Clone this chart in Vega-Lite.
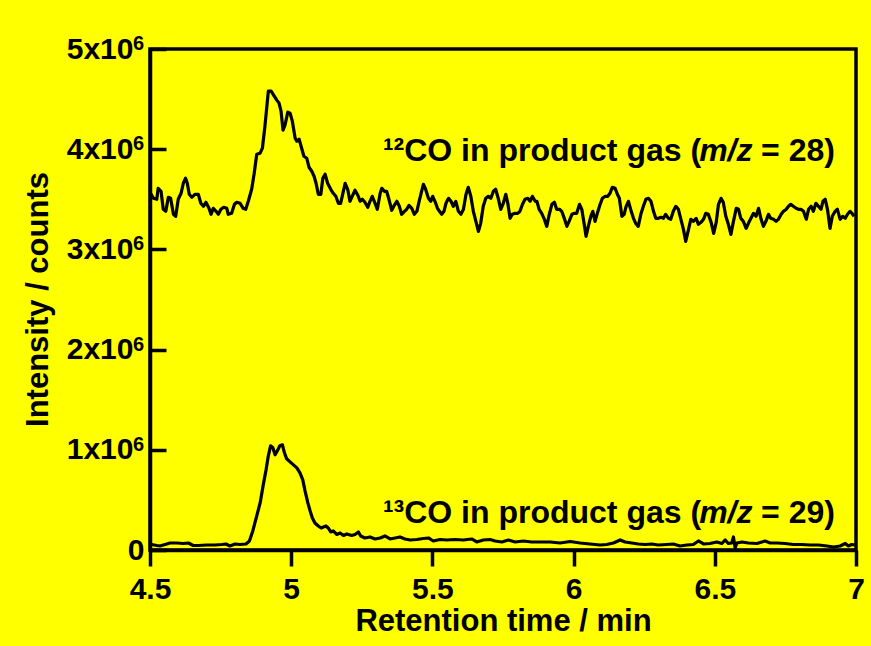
{
"$schema": "https://vega.github.io/schema/vega-lite/v6.json",
"width": 706, "height": 501,
"autosize": {"type": "none"},
"padding": {"left": 150, "top": 49, "right": 15, "bottom": 96},
"background": "#FFFF00",
"config": {
 "view": {"stroke": "black", "strokeWidth": 3.5},
 "font": "Liberation Sans",
 "axis": {"domainColor": "black", "domainWidth": 3.5, "tickColor": "black", "tickWidth": 3.5, "grid": false,
  "labelFont": "Liberation Sans", "labelFontWeight": "bold", "labelColor": "black", "labelFontSize": 30,
  "titleFont": "Liberation Sans", "titleFontWeight": "bold", "titleColor": "black", "titleFontSize": 31}
},
"datasets": {
 "c12": [
{"t":4.502,"v":3.53},{"t":4.504,"v":3.55},{"t":4.512,"v":3.51},{"t":4.524,"v":3.50},{"t":4.529,"v":3.61},{"t":4.539,"v":3.58},{"t":4.547,"v":3.40},{"t":4.556,"v":3.38},{"t":4.565,"v":3.52},{"t":4.573,"v":3.51},{"t":4.583,"v":3.35},{"t":4.591,"v":3.33},{"t":4.600,"v":3.50},{"t":4.610,"v":3.56},{"t":4.618,"v":3.66},{"t":4.626,"v":3.71},{"t":4.632,"v":3.66},{"t":4.639,"v":3.55},{"t":4.648,"v":3.52},{"t":4.659,"v":3.55},{"t":4.671,"v":3.55},{"t":4.680,"v":3.46},{"t":4.689,"v":3.43},{"t":4.698,"v":3.47},{"t":4.709,"v":3.41},{"t":4.716,"v":3.35},{"t":4.724,"v":3.41},{"t":4.734,"v":3.38},{"t":4.742,"v":3.35},{"t":4.751,"v":3.40},{"t":4.761,"v":3.42},{"t":4.772,"v":3.41},{"t":4.777,"v":3.35},{"t":4.789,"v":3.36},{"t":4.799,"v":3.45},{"t":4.807,"v":3.47},{"t":4.819,"v":3.46},{"t":4.830,"v":3.41},{"t":4.839,"v":3.40},{"t":4.848,"v":3.48},{"t":4.860,"v":3.60},{"t":4.869,"v":3.76},{"t":4.878,"v":3.95},{"t":4.890,"v":3.96},{"t":4.898,"v":4.01},{"t":4.907,"v":4.23},{"t":4.919,"v":4.58},{"t":4.929,"v":4.58},{"t":4.940,"v":4.53},{"t":4.949,"v":4.49},{"t":4.957,"v":4.46},{"t":4.964,"v":4.38},{"t":4.971,"v":4.19},{"t":4.978,"v":4.24},{"t":4.988,"v":4.37},{"t":4.996,"v":4.36},{"t":5.004,"v":4.28},{"t":5.014,"v":4.11},{"t":5.020,"v":4.08},{"t":5.028,"v":4.10},{"t":5.037,"v":4.01},{"t":5.045,"v":3.93},{"t":5.055,"v":3.91},{"t":5.063,"v":3.82},{"t":5.073,"v":3.78},{"t":5.081,"v":3.73},{"t":5.088,"v":3.66},{"t":5.096,"v":3.55},{"t":5.105,"v":3.55},{"t":5.112,"v":3.71},{"t":5.120,"v":3.75},{"t":5.129,"v":3.66},{"t":5.140,"v":3.60},{"t":5.149,"v":3.56},{"t":5.158,"v":3.53},{"t":5.167,"v":3.46},{"t":5.175,"v":3.46},{"t":5.183,"v":3.56},{"t":5.191,"v":3.66},{"t":5.200,"v":3.60},{"t":5.208,"v":3.48},{"t":5.216,"v":3.53},{"t":5.226,"v":3.59},{"t":5.236,"v":3.54},{"t":5.244,"v":3.48},{"t":5.252,"v":3.50},{"t":5.261,"v":3.47},{"t":5.271,"v":3.42},{"t":5.279,"v":3.48},{"t":5.287,"v":3.53},{"t":5.297,"v":3.46},{"t":5.305,"v":3.40},{"t":5.315,"v":3.56},{"t":5.321,"v":3.61},{"t":5.330,"v":3.58},{"t":5.338,"v":3.58},{"t":5.348,"v":3.48},{"t":5.356,"v":3.39},{"t":5.365,"v":3.44},{"t":5.374,"v":3.48},{"t":5.383,"v":3.43},{"t":5.391,"v":3.35},{"t":5.401,"v":3.38},{"t":5.409,"v":3.40},{"t":5.417,"v":3.44},{"t":5.427,"v":3.41},{"t":5.436,"v":3.35},{"t":5.445,"v":3.38},{"t":5.453,"v":3.48},{"t":5.460,"v":3.56},{"t":5.468,"v":3.65},{"t":5.476,"v":3.60},{"t":5.486,"v":3.51},{"t":5.494,"v":3.48},{"t":5.501,"v":3.53},{"t":5.509,"v":3.48},{"t":5.518,"v":3.41},{"t":5.525,"v":3.38},{"t":5.533,"v":3.35},{"t":5.541,"v":3.38},{"t":5.548,"v":3.46},{"t":5.557,"v":3.51},{"t":5.566,"v":3.48},{"t":5.574,"v":3.43},{"t":5.583,"v":3.48},{"t":5.592,"v":3.38},{"t":5.601,"v":3.35},{"t":5.610,"v":3.40},{"t":5.619,"v":3.55},{"t":5.627,"v":3.62},{"t":5.636,"v":3.53},{"t":5.645,"v":3.38},{"t":5.654,"v":3.28},{"t":5.663,"v":3.18},{"t":5.671,"v":3.26},{"t":5.680,"v":3.43},{"t":5.689,"v":3.51},{"t":5.698,"v":3.53},{"t":5.707,"v":3.51},{"t":5.716,"v":3.58},{"t":5.724,"v":3.60},{"t":5.734,"v":3.50},{"t":5.742,"v":3.40},{"t":5.751,"v":3.46},{"t":5.760,"v":3.55},{"t":5.767,"v":3.46},{"t":5.775,"v":3.31},{"t":5.783,"v":3.35},{"t":5.793,"v":3.36},{"t":5.802,"v":3.36},{"t":5.810,"v":3.38},{"t":5.819,"v":3.45},{"t":5.828,"v":3.50},{"t":5.838,"v":3.51},{"t":5.846,"v":3.48},{"t":5.854,"v":3.53},{"t":5.864,"v":3.48},{"t":5.870,"v":3.48},{"t":5.878,"v":3.40},{"t":5.887,"v":3.36},{"t":5.895,"v":3.31},{"t":5.905,"v":3.23},{"t":5.913,"v":3.34},{"t":5.923,"v":3.45},{"t":5.932,"v":3.47},{"t":5.940,"v":3.40},{"t":5.950,"v":3.40},{"t":5.958,"v":3.38},{"t":5.967,"v":3.31},{"t":5.976,"v":3.23},{"t":5.984,"v":3.28},{"t":5.994,"v":3.35},{"t":6.003,"v":3.36},{"t":6.011,"v":3.36},{"t":6.021,"v":3.45},{"t":6.029,"v":3.40},{"t":6.037,"v":3.26},{"t":6.044,"v":3.13},{"t":6.052,"v":3.23},{"t":6.061,"v":3.33},{"t":6.068,"v":3.38},{"t":6.076,"v":3.28},{"t":6.084,"v":3.36},{"t":6.094,"v":3.45},{"t":6.102,"v":3.51},{"t":6.112,"v":3.53},{"t":6.121,"v":3.53},{"t":6.129,"v":3.56},{"t":6.137,"v":3.62},{"t":6.147,"v":3.61},{"t":6.155,"v":3.55},{"t":6.162,"v":3.51},{"t":6.171,"v":3.33},{"t":6.179,"v":3.35},{"t":6.186,"v":3.43},{"t":6.194,"v":3.48},{"t":6.204,"v":3.38},{"t":6.212,"v":3.31},{"t":6.220,"v":3.26},{"t":6.229,"v":3.23},{"t":6.238,"v":3.35},{"t":6.247,"v":3.43},{"t":6.256,"v":3.50},{"t":6.265,"v":3.51},{"t":6.274,"v":3.48},{"t":6.283,"v":3.38},{"t":6.291,"v":3.31},{"t":6.300,"v":3.31},{"t":6.310,"v":3.32},{"t":6.318,"v":3.31},{"t":6.326,"v":3.35},{"t":6.336,"v":3.31},{"t":6.344,"v":3.30},{"t":6.353,"v":3.38},{"t":6.362,"v":3.43},{"t":6.371,"v":3.40},{"t":6.380,"v":3.30},{"t":6.389,"v":3.20},{"t":6.397,"v":3.08},{"t":6.407,"v":3.20},{"t":6.415,"v":3.30},{"t":6.424,"v":3.28},{"t":6.434,"v":3.31},{"t":6.442,"v":3.25},{"t":6.451,"v":3.27},{"t":6.460,"v":3.30},{"t":6.468,"v":3.36},{"t":6.477,"v":3.35},{"t":6.487,"v":3.27},{"t":6.496,"v":3.16},{"t":6.505,"v":3.27},{"t":6.513,"v":3.45},{"t":6.522,"v":3.51},{"t":6.530,"v":3.47},{"t":6.539,"v":3.33},{"t":6.548,"v":3.25},{"t":6.557,"v":3.15},{"t":6.566,"v":3.28},{"t":6.576,"v":3.41},{"t":6.584,"v":3.40},{"t":6.592,"v":3.31},{"t":6.601,"v":3.28},{"t":6.611,"v":3.21},{"t":6.619,"v":3.26},{"t":6.628,"v":3.31},{"t":6.637,"v":3.36},{"t":6.646,"v":3.33},{"t":6.655,"v":3.41},{"t":6.664,"v":3.30},{"t":6.672,"v":3.23},{"t":6.681,"v":3.28},{"t":6.690,"v":3.35},{"t":6.698,"v":3.31},{"t":6.708,"v":3.30},{"t":6.717,"v":3.28},{"t":6.725,"v":3.30},{"t":6.735,"v":3.35},{"t":6.743,"v":3.38},{"t":6.753,"v":3.40},{"t":6.761,"v":3.43},{"t":6.769,"v":3.45},{"t":6.778,"v":3.43},{"t":6.788,"v":3.41},{"t":6.796,"v":3.40},{"t":6.805,"v":3.40},{"t":6.814,"v":3.38},{"t":6.824,"v":3.30},{"t":6.832,"v":3.40},{"t":6.841,"v":3.43},{"t":6.849,"v":3.38},{"t":6.858,"v":3.46},{"t":6.867,"v":3.43},{"t":6.876,"v":3.40},{"t":6.883,"v":3.48},{"t":6.891,"v":3.50},{"t":6.899,"v":3.40},{"t":6.908,"v":3.21},{"t":6.916,"v":3.33},{"t":6.926,"v":3.38},{"t":6.934,"v":3.40},{"t":6.944,"v":3.30},{"t":6.953,"v":3.33},{"t":6.962,"v":3.31},{"t":6.970,"v":3.35},{"t":6.979,"v":3.38},{"t":6.986,"v":3.36},{"t":6.993,"v":3.33}
 ],
 "c13": [
{"t":4.502,"v":0.05},{"t":4.506,"v":0.055},{"t":4.524,"v":0.045},{"t":4.535,"v":0.04},{"t":4.553,"v":0.055},{"t":4.571,"v":0.07},{"t":4.595,"v":0.07},{"t":4.618,"v":0.065},{"t":4.636,"v":0.07},{"t":4.653,"v":0.045},{"t":4.671,"v":0.045},{"t":4.701,"v":0.05},{"t":4.730,"v":0.05},{"t":4.754,"v":0.055},{"t":4.769,"v":0.06},{"t":4.783,"v":0.04},{"t":4.801,"v":0.06},{"t":4.819,"v":0.055},{"t":4.840,"v":0.06},{"t":4.852,"v":0.09},{"t":4.864,"v":0.19},{"t":4.878,"v":0.34},{"t":4.890,"v":0.47},{"t":4.901,"v":0.65},{"t":4.911,"v":0.80},{"t":4.919,"v":0.94},{"t":4.927,"v":1.04},{"t":4.935,"v":1.02},{"t":4.943,"v":0.95},{"t":4.951,"v":0.99},{"t":4.960,"v":1.04},{"t":4.969,"v":1.05},{"t":4.976,"v":0.97},{"t":4.984,"v":0.91},{"t":4.996,"v":0.88},{"t":5.008,"v":0.85},{"t":5.020,"v":0.82},{"t":5.031,"v":0.77},{"t":5.041,"v":0.70},{"t":5.049,"v":0.59},{"t":5.059,"v":0.47},{"t":5.067,"v":0.39},{"t":5.075,"v":0.32},{"t":5.084,"v":0.27},{"t":5.096,"v":0.24},{"t":5.106,"v":0.22},{"t":5.114,"v":0.23},{"t":5.123,"v":0.24},{"t":5.131,"v":0.22},{"t":5.140,"v":0.18},{"t":5.149,"v":0.19},{"t":5.161,"v":0.155},{"t":5.173,"v":0.17},{"t":5.185,"v":0.145},{"t":5.197,"v":0.16},{"t":5.214,"v":0.145},{"t":5.226,"v":0.155},{"t":5.238,"v":0.18},{"t":5.246,"v":0.14},{"t":5.261,"v":0.12},{"t":5.279,"v":0.13},{"t":5.297,"v":0.11},{"t":5.315,"v":0.12},{"t":5.332,"v":0.14},{"t":5.350,"v":0.11},{"t":5.368,"v":0.12},{"t":5.385,"v":0.13},{"t":5.403,"v":0.11},{"t":5.421,"v":0.10},{"t":5.445,"v":0.105},{"t":5.468,"v":0.115},{"t":5.486,"v":0.12},{"t":5.503,"v":0.09},{"t":5.527,"v":0.105},{"t":5.551,"v":0.10},{"t":5.580,"v":0.105},{"t":5.610,"v":0.10},{"t":5.639,"v":0.11},{"t":5.657,"v":0.08},{"t":5.680,"v":0.10},{"t":5.704,"v":0.105},{"t":5.722,"v":0.09},{"t":5.746,"v":0.08},{"t":5.769,"v":0.10},{"t":5.793,"v":0.08},{"t":5.822,"v":0.09},{"t":5.852,"v":0.08},{"t":5.881,"v":0.08},{"t":5.917,"v":0.08},{"t":5.952,"v":0.07},{"t":5.988,"v":0.085},{"t":6.023,"v":0.07},{"t":6.058,"v":0.06},{"t":6.094,"v":0.05},{"t":6.117,"v":0.055},{"t":6.141,"v":0.07},{"t":6.165,"v":0.10},{"t":6.182,"v":0.08},{"t":6.206,"v":0.07},{"t":6.229,"v":0.06},{"t":6.253,"v":0.055},{"t":6.277,"v":0.06},{"t":6.300,"v":0.05},{"t":6.330,"v":0.055},{"t":6.353,"v":0.06},{"t":6.377,"v":0.04},{"t":6.401,"v":0.05},{"t":6.424,"v":0.055},{"t":6.442,"v":0.09},{"t":6.460,"v":0.06},{"t":6.483,"v":0.065},{"t":6.507,"v":0.08},{"t":6.525,"v":0.065},{"t":6.537,"v":0.10},{"t":6.548,"v":0.065},{"t":6.560,"v":0.07},{"t":6.566,"v":0.13},{"t":6.572,"v":0.02},{"t":6.578,"v":0.07},{"t":6.596,"v":0.08},{"t":6.619,"v":0.07},{"t":6.649,"v":0.065},{"t":6.678,"v":0.09},{"t":6.696,"v":0.07},{"t":6.720,"v":0.07},{"t":6.749,"v":0.065},{"t":6.778,"v":0.055},{"t":6.808,"v":0.055},{"t":6.837,"v":0.05},{"t":6.867,"v":0.05},{"t":6.897,"v":0.04},{"t":6.920,"v":0.03},{"t":6.944,"v":0.04},{"t":6.962,"v":0.065},{"t":6.973,"v":0.04},{"t":6.985,"v":0.055},{"t":6.995,"v":0.05}
 ],
 "labels": [
  {"t": 6.4515, "v": 3.886, "part": "a", "txt": "¹²CO in product gas ("},
  {"t": 6.4445, "v": 3.886, "part": "b", "txt": "m/z"},
  {"t": 6.6640, "v": 3.886, "part": "c", "txt": "= 28)"},
  {"t": 6.4515, "v": 0.27, "part": "a", "txt": "¹³CO in product gas ("},
  {"t": 6.4445, "v": 0.27, "part": "b", "txt": "m/z"},
  {"t": 6.6640, "v": 0.27, "part": "c", "txt": "= 29)"}
 ],
 "exponents": [
  {"t": 4.5, "v": 1, "sup": "6"},
  {"t": 4.5, "v": 2, "sup": "6"},
  {"t": 4.5, "v": 3, "sup": "6"},
  {"t": 4.5, "v": 4, "sup": "6"},
  {"t": 4.5, "v": 5, "sup": "6"}
 ],
 "xticks": [{"t": 4.5}, {"t": 5}, {"t": 5.5}, {"t": 6}, {"t": 6.5}, {"t": 7}],
 "yticks": [{"v": 1}, {"v": 2}, {"v": 3}, {"v": 4}]
},
"encoding": {
 "x": {"field": "t", "type": "quantitative",
  "scale": {"domain": [4.5, 7], "nice": false, "zero": false},
  "axis": {"values": [4.5, 5, 5.5, 6, 6.5, 7], "format": "~g", "tickSize": 16, "labelPadding": 32, "labelBaseline": "alphabetic", "labelFlush": false,
   "title": "Retention time / min", "titleY": 80, "titleBaseline": "alphabetic"}},
 "y": {"field": "v", "type": "quantitative",
  "scale": {"domain": [0, 5], "nice": false},
  "axis": {"values": [0, 1, 2, 3, 4, 5], "labelExpr": "datum.value == 0 ? '0' : datum.value + 'x10'", "tickSize": -16,
   "labelPadding": {"condition": {"test": "datum.value == 0", "value": 22}, "value": 33}, "labelBaseline": "middle",
   "title": "Intensity / counts", "titleX": -112, "titleY": 250, "titleAngle": -90, "titleBaseline": "middle", "titleAlign": "center"}}
},
"layer": [
 {"data": {"name": "xticks"}, "mark": {"type": "rule", "stroke": "black", "strokeWidth": 3.5},
  "encoding": {"y": {"datum": 0}, "y2": {"datum": -0.16}}},
 {"data": {"name": "yticks"}, "mark": {"type": "rule", "stroke": "black", "strokeWidth": 3.5},
  "encoding": {"x": {"datum": 4.5}, "x2": {"datum": 4.557}}},
 {"data": {"name": "c12"}, "mark": {"type": "line", "stroke": "black", "strokeWidth": 3.2, "strokeJoin": "round"}},
 {"data": {"name": "c13"}, "mark": {"type": "line", "stroke": "black", "strokeWidth": 3.2, "strokeJoin": "round"}},
 {"data": {"name": "exponents"},
  "mark": {"type": "text", "align": "right", "baseline": "alphabetic", "dx": -6, "dy": 1, "font": "Liberation Sans", "fontWeight": "bold", "fontSize": 20, "color": "black"},
  "encoding": {"text": {"field": "sup"}}},
 {"data": {"name": "labels"}, "transform": [{"filter": "datum.part == 'a'"}],
  "mark": {"type": "text", "align": "right", "baseline": "alphabetic", "font": "Liberation Sans", "fontWeight": "bold", "fontSize": 32, "color": "black"},
  "encoding": {"text": {"field": "txt"}}},
 {"data": {"name": "labels"}, "transform": [{"filter": "datum.part == 'b'"}],
  "mark": {"type": "text", "align": "left", "baseline": "alphabetic", "font": "Liberation Sans", "fontWeight": "bold", "fontStyle": "italic", "fontSize": 32, "color": "black"},
  "encoding": {"text": {"field": "txt"}}},
 {"data": {"name": "labels"}, "transform": [{"filter": "datum.part == 'c'"}],
  "mark": {"type": "text", "align": "left", "baseline": "alphabetic", "font": "Liberation Sans", "fontWeight": "bold", "fontSize": 32, "color": "black"},
  "encoding": {"text": {"field": "txt"}}}
]
}
